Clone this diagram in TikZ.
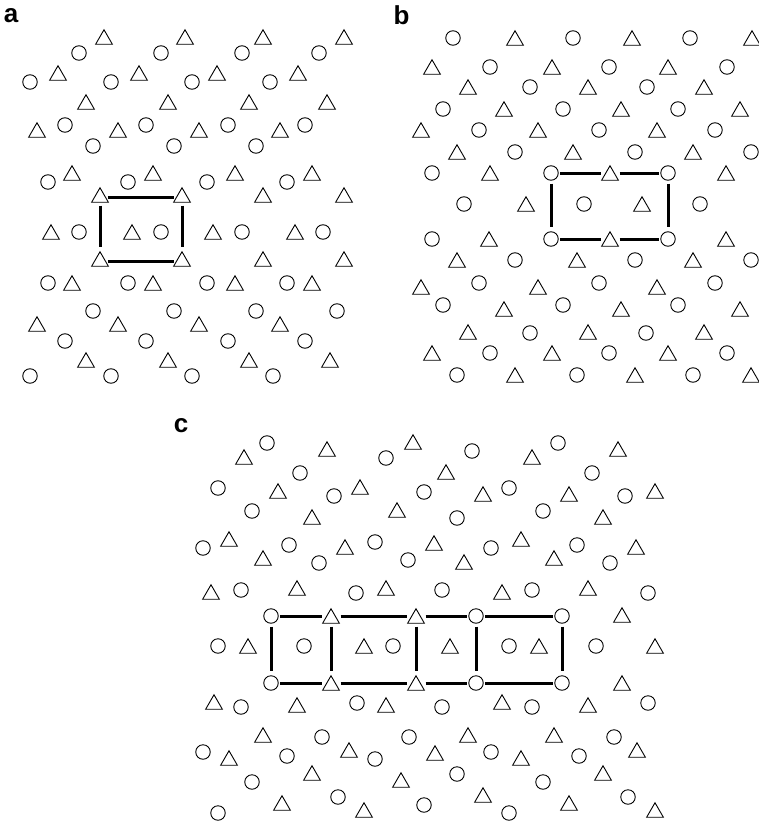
\documentclass[tikz,border=0pt]{standalone}
\usepackage{fontspec}
\newfontfamily\labfont{Liberation Sans}
\usetikzlibrary{shapes.geometric}
\tikzset{
  cir/.style={circle,draw,line width=0.9pt,minimum size=14.5pt,inner sep=0pt},
  tri/.style={regular polygon,regular polygon sides=3,draw,line width=0.9pt,minimum size=19.3pt,inner sep=0pt,yshift=-2.4pt},
  link/.style={line width=3pt,shorten <=1.5pt,shorten >=1.5pt},
  tstart/.style={shorten <=9.5pt},
  tend/.style={shorten >=9.5pt},
  vlink/.style={line width=3pt,shorten <=3pt,shorten >=4pt},
  lab/.style={font=\labfont\bfseries\fontsize{26}{26}\selectfont,inner sep=0pt}
}
\begin{document}
\begin{tikzpicture}[x=1pt,y=-1pt]
\useasboundingbox (0,0) rectangle (759,824);
% labels
\node[lab] (la) at (11,15.5) {a};
\node[lab] (lb) at (401.5,15.5) {b};
\node[lab] (lc) at (181,426) {c};
% ---------- panel a ----------
\foreach \x/\y [count=\i] in {79/53,161/53,242/53,319/53,30/82,111/82,192/82,270/82,65/125,146/125,228/125,305/125,93/146,174/146,256/146,48/182,128/182,207/182,287/182,79/232,161/232,242/232,323/232,48/283,128/283,207/283,287/283,93/311,174/311,256/311,337/311,65/341,146/341,228/341,305/341,30/376,111/376,192/376,273/376}
  \node[cir] (ac\i) at (\x,\y) {};
\foreach \x/\y [count=\i] in {104/37,185/37,263/37,344/37,58/73,139/73,217/73,298/73,86/102,168/102,249/102,327/102,37/130,118/130,199/130,280/130,72/173,153/173,235/173,312/173,263/195,344/195,51/232,132/232,213/232,295/232,263/259,344/259,72/283,153/283,235/283,312/283,37/324,118/324,199/324,280/324,86/360,168/360,249/360,330/360}
  \node[tri] (at\i) at (\x,\y) {};
\node[tri] (A1) at (100,195) {};
\node[tri] (A2) at (182,195) {};
\node[tri] (A3) at (100,259) {};
\node[tri] (A4) at (182,259) {};
\draw[link] (A1) -- (A2);
\draw[link] (A3) -- (A4);
\draw[vlink] (A1) -- (A3);
\draw[vlink] (A2) -- (A4);
% ---------- panel b ----------
\foreach \x/\y [count=\i] in {453/38,573/38,690/38,490/67,609/67,727/67,530/87,647/87,443/109,563/109,678/109,479/130,599/130,715/130,515/152,635/152,751/152,432/173,464/204,584/204,700/204,432/239,515/260,635/260,751/260,479/283,599/283,715/283,443/305,563/305,678/305,530/333,646/333,490/353,609/353,727/353,457/375,577/375,693/375}
  \node[cir] (bc\i) at (\x,\y) {};
\foreach \x/\y [count=\i] in {515/38,632/38,752/38,432/67,552/67,668/67,468/87,588/87,704/87,504/109,621/109,740/109,421/130,538/130,657/130,457/152,573/152,693/152,490/173,726/173,526/204,642/204,489/239,726/239,457/260,577/260,693/260,421/287,538/287,657/287,504/309,621/309,740/309,468/332,588/332,704/332,432/353,552/353,668/353,515/375,635/375,751/375}
  \node[tri] (bt\i) at (\x,\y) {};
\node[cir] (B1) at (551,173) {};
\node[tri] (B2) at (610,173) {};
\coordinate (B2r) at (610,173);
\node[cir] (B3) at (668,173) {};
\node[cir] (B4) at (551,239) {};
\node[tri] (B5) at (610,239) {};
\coordinate (B5r) at (610,239);
\node[cir] (B6) at (668,239) {};
\draw[link,tend] (B1) -- (B2r);
\draw[link,tstart] (B2r) -- (B3);
\draw[link,tend] (B4) -- (B5r);
\draw[link,tstart] (B5r) -- (B6);
\draw[vlink] (B1) -- (B4);
\draw[vlink] (B3) -- (B6);
% ---------- panel c ----------
\foreach \x/\y [count=\i] in {267/443,386/458,472/451,558/443,300/473,592/473,218/488,334/496,424/492,509/488,625/496,252/511,457/518,543/511,203/548,289/545,319/563,375/542,408/560,491/548,577/545,610/563,241/590,356/593,442/590,532/590,648/593,218/646,304/646,393/646,509/646,596/646,241/707,357/703,442/707,532/707,648/703,322/737,409/737,614/737,203/752,287/756,375/759,491/752,579/756,252/782,457/774,543/782,218/813,338/797,424/805,509/813,628/797}
  \node[cir] (cc\i) at (\x,\y) {};
\foreach \x/\y [count=\i] in {244/457,327/449,413/442,532/457,618/449,446/472,278/491,360/487,483/494,569/494,655/491,312/517,397/510,603/517,229/539,263/558,345/547,434/543,464/562,521/539,554/558,636/547,211/592,297/588,386/588,502/592,588/588,622/615,248/646,364/646,450/646,539/646,655/646,622/683,214/702,297/705,386/705,502/702,588/705,263/735,468/735,554/735,229/758,349/750,435/753,521/758,637/750,312/773,401/780,603/773,282/803,364/810,483/795,569/803,655/810}
  \node[tri] (ct\i) at (\x,\y) {};
\node[cir] (C1) at (271,616) {};
\node[tri] (C2) at (331,616) {};
\coordinate (C2r) at (331,616);
\node[tri] (C3) at (416,616) {};
\coordinate (C3r) at (416,616);
\node[cir] (C4) at (476,616) {};
\node[cir] (C5) at (562,616) {};
\node[cir] (D1) at (271,683) {};
\node[tri] (D2) at (331,683) {};
\coordinate (D2r) at (331,683);
\node[tri] (D3) at (416,683) {};
\coordinate (D3r) at (416,683);
\node[cir] (D4) at (476,683) {};
\node[cir] (D5) at (562,683) {};
\draw[link,tend] (C1) -- (C2r);
\draw[link,tstart,tend] (C2r) -- (C3r);
\draw[link,tstart] (C3r) -- (C4);
\draw[link] (C4) -- (C5);
\draw[link,tend] (D1) -- (D2r);
\draw[link,tstart,tend] (D2r) -- (D3r);
\draw[link,tstart] (D3r) -- (D4);
\draw[link] (D4) -- (D5);
\foreach \k in {1,...,5} \draw[vlink] (C\k) -- (D\k);
\end{tikzpicture}
\end{document}
